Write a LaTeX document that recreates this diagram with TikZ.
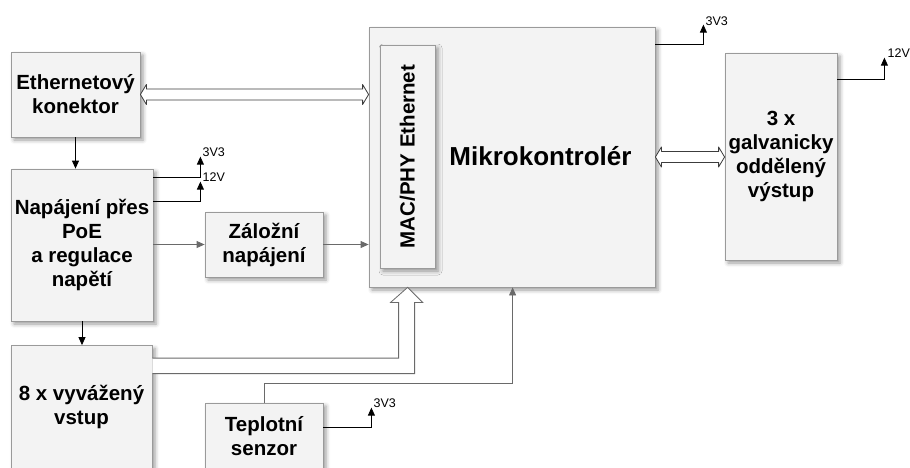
\documentclass[tikz,border=0pt]{standalone}
\usepackage{fontspec}
\setmainfont{Liberation Sans}
\usetikzlibrary{arrows.meta,calc,shadows.blur}
\definecolor{boxfill}{HTML}{F3F3F3}
\definecolor{boxline}{HTML}{9A9A9A}
\definecolor{conngray}{HTML}{6A6A6A}
\definecolor{dblline}{HTML}{3C3C3C}
\newcommand\dblarrow[2]{%
  \draw[dbl] let \p1=#1, \p2=#2 in
    (\x1,\y1) -- (\x1+6pt,\y1+10pt) -- (\x1+6pt,\y1+5.5pt) -- (\x2-6pt,\y1+5.5pt)
    -- (\x2-6pt,\y1+10pt) -- (\x2,\y1) -- (\x2-6pt,\y1-10pt) -- (\x2-6pt,\y1-5.5pt)
    -- (\x1+6pt,\y1-5.5pt) -- (\x1+6pt,\y1-10pt) -- cycle;}
\begin{document}
\begin{tikzpicture}[x=1pt,y=-1pt,
  box/.style={draw=boxline, fill=boxfill, line width=0.8pt,
    blur shadow={shadow xshift=3pt, shadow yshift=-3pt, shadow blur radius=4pt, shadow opacity=40},
    align=center, inner sep=0pt, font=\fontsize{20.5}{24}\selectfont\bfseries},
  txt/.style={align=center, inner sep=0pt, font=\fontsize{20.5}{24}\selectfont\bfseries},
  vlab/.style={inner sep=0pt, font=\fontsize{12.5}{13}\selectfont},
  blk/.style={draw=black, line width=0.8pt, -{Triangle[length=8pt,width=7pt]}},
  gry/.style={draw=conngray, line width=0.8pt, -{Triangle[length=8pt,width=7pt]}},
  dbl/.style={draw=dblline, fill=white, line width=0.8pt, line join=round},
  hollow/.style={draw=conngray, fill=white, line width=0.8pt}]
\useasboundingbox (0,0) rectangle (910,467);
\clip (0,0) rectangle (910,467);

% boxes
\node[box, minimum width=129pt, minimum height=85pt] (eth) at (75.5,94.5) {Ethernetový\\konektor};
\node[box, minimum width=142pt, minimum height=152pt] (pwr) at (82,245) {Napájení přes\\PoE\\a regulace\\napětí};
\node[box, minimum width=118pt, minimum height=65pt] (zal) at (264,244.5) {Záložní\\napájení};
\node[box, minimum width=286pt, minimum height=260pt] (mcu) at (512,157) {};
\node[txt, font=\fontsize{26}{30}\selectfont\bfseries] (mcutxt) at (540.5,156.5) {Mikrokontrolér};
\node[box, minimum width=55pt, minimum height=223pt] (mac) at (407.5,156.5) {};
\node[txt, rotate=90] (mactxt) at (mac.center) {MAC/PHY Ethernet};
\node[box, minimum width=112pt, minimum height=207pt] (out) at (781,156.5) {3 x\\galvanicky\\oddělený\\výstup};
\node[box, minimum width=141pt, minimum height=123pt] (inp) at (81.5,407) {8 x vyvážený\\vstup};
\node[box, minimum width=118pt, minimum height=66pt] (tem) at (264,436) {Teplotní\\senzor};

% double arrows
\dblarrow{(eth.east)}{(eth.east -| mcu.west)}
\dblarrow{(mcu.east)}{(mcu.east -| out.west)}

% signal arrows
\draw[blk] (eth.south) -- (eth.south |- pwr.north);
\draw[blk] (pwr.south) -- (pwr.south |- inp.north);
\draw[gry] (zal.west -| pwr.east) -- (zal.west);
\draw[gry] (zal.east) -- (zal.east -| mcu.west);
\draw[gry] (tem.north) -- ++(0,-19) -| ($(mcu.south west)+(144,0)$);

% big hollow arrow from inputs
\draw[hollow] let \p1=(inp.north east), \p2=(mcu.south west) in
  (\x1,\y1-13pt) -- (\x2+30pt,\y1-13pt) -- (\x2+30pt,\y2-15pt) -- (\x2+22pt,\y2-15pt)
  -- (\x2+39pt,\y2) -- (\x2+54pt,\y2-15pt) -- (\x2+46pt,\y2-15pt)
  -- (\x2+46pt,\y1-28.5pt) -- (\x1,\y1-28.5pt);

% supply outputs
\draw[blk] ($(pwr.north east)+(0,9)$) -- ++(47,0) -- ++(0,-21) coordinate (p3);
\node[vlab, anchor=base west] (p3l) at ([xshift=2pt]p3) {3V3};
\draw[blk] ($(pwr.north east)+(0,33)$) -- ++(47,0) -- ++(0,-20) coordinate (p12);
\node[vlab, anchor=base west] (p12l) at ([xshift=2pt]p12) {12V};
\draw[blk] ($(mcu.north east)+(0,18)$) -- ++(48,0) -- ++(0,-20) coordinate (m3);
\node[vlab, anchor=base west] (m3l) at ([xshift=2pt,yshift=-1pt]m3) {3V3};
\draw[blk] ($(out.north east)+(0,27)$) -- ++(47,0) -- ++(0,-22) coordinate (o12);
\node[vlab, anchor=base west] (o12l) at ([xshift=3pt]o12) {12V};
\draw[blk] ($(tem.north east)+(0,25)$) -- ++(48,0) -- ++(0,-20) coordinate (t3);
\node[vlab, anchor=base west] (t3l) at ([xshift=2pt]t3) {3V3};
\end{tikzpicture}
\end{document}
